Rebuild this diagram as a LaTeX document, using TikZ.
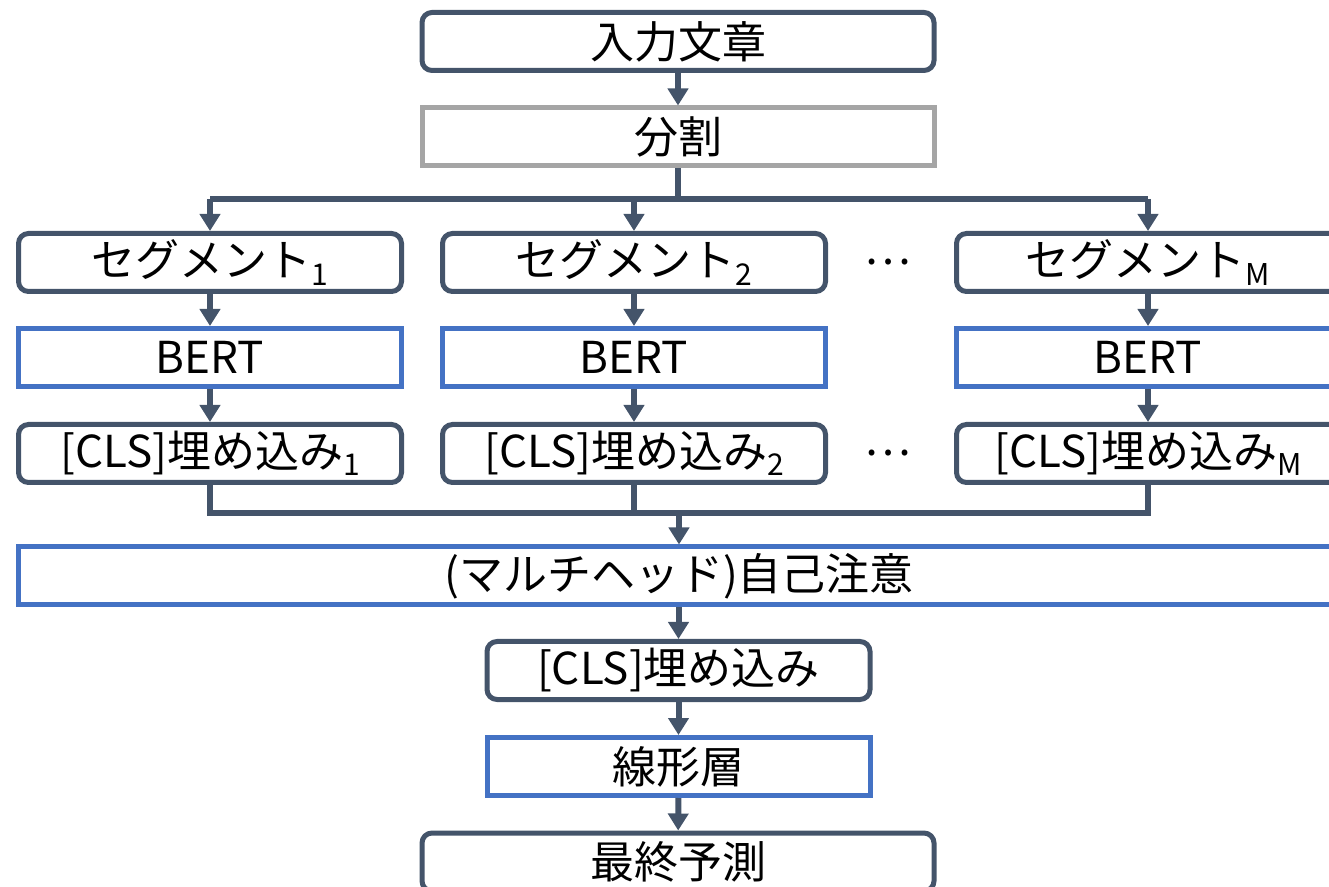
\documentclass[tikz,border=0pt]{standalone}
\usepackage{fontspec}
\setmainfont{Noto Sans CJK JP}
\usetikzlibrary{arrows.meta}
\definecolor{dk}{HTML}{44546A}
\definecolor{bl}{HTML}{4472C4}
\definecolor{gr}{HTML}{A5A5A5}
\newcommand{\mysub}[1]{{\fontsize{15pt}{15pt}\selectfont\raisebox{-0.5ex}{#1}}}
\tikzset{
  base/.style={minimum height=29pt, inner sep=0pt, font=\fontsize{22pt}{24pt}\selectfont, fill=white, line width=2.5pt},
  rbox/.style={base, draw=dk, rounded corners=5pt},
  bbox/.style={base, draw=bl},
  gbox/.style={base, draw=gr},
  conn/.style={draw=dk, line width=3pt},
  arr/.style={conn, -{Triangle[width=10pt,length=8.5pt]}},
}
\begin{document}
\begin{tikzpicture}[x=0.5pt,y=-0.5pt]
\useasboundingbox (0,0) rectangle (1329,887);
\clip (0,0) rectangle (1329,887);
% top
\node[rbox, minimum width=256pt] (in) at (678,41.5) {入力文章};
\node[gbox, minimum width=256pt] (split) at (678,137) {分割};
% segments
\node[rbox, minimum width=191.5pt] (s1) at (210,262.5) {セグメント\mysub{1}};
\node[rbox, minimum width=191.5pt] (s2) at (634,262.5) {セグメント\mysub{2}};
\node[rbox, minimum width=191.5pt] (sM) at (1148,262.5) {セグメント\mysub{M}};
\node[font=\fontsize{22pt}{24pt}\selectfont] (d1) at (888,262.5) {…};
% BERT
\node[bbox, minimum width=191.5pt] (b1) at (210,357.5) {BERT};
\node[bbox, minimum width=191.5pt] (b2) at (634,357.5) {BERT};
\node[bbox, minimum width=191.5pt] (bM) at (1148,357.5) {BERT};
% CLS
\node[rbox, minimum width=191.5pt] (c1) at (210,453.5) {[CLS]埋め込み\mysub{1}};
\node[rbox, minimum width=191.5pt] (c2) at (634,453.5) {[CLS]埋め込み\mysub{2}};
\node[rbox, minimum width=191.5pt] (cM) at (1148,453.5) {[CLS]埋め込み\mysub{M}};
\node[font=\fontsize{22pt}{24pt}\selectfont] (d2) at (888,453.5) {…};
% attention
\node[bbox, minimum width=661pt] (att) at (679,576) {(マルチヘッド)自己注意};
\node[rbox, minimum width=191.5pt] (cls) at (678.5,670.5) {[CLS]埋め込み};
\node[bbox, minimum width=191.5pt] (lin) at (678.5,766.5) {線形層};
\node[rbox, minimum width=256pt] (out) at (678,862) {最終予測};
% connectors
\draw[arr] (in.south) -- (split.north);
\coordinate (j1) at (678,199);
\draw[conn] (split.south) -- (j1);
\draw[conn] (s1.north |- j1) -- (sM.north |- j1);
\draw[arr] (s1.north |- j1) -- (s1.north);
\draw[arr] (s2.north |- j1) -- (s2.north);
\draw[arr] (sM.north |- j1) -- (sM.north);
\draw[arr] (s1) -- (b1);
\draw[arr] (s2) -- (b2);
\draw[arr] (sM) -- (bM);
\draw[arr] (b1) -- (c1);
\draw[arr] (b2) -- (c2);
\draw[arr] (bM) -- (cM);
\coordinate (j2) at (679,513);
\draw[conn] (c1.south) |- (cM.south |- j2) -- (cM.south);
\draw[conn] (c2.south) -- (c2.south |- j2);
\draw[arr] (j2) -- (att.north);
\draw[arr] (att.south -| cls.north) -- (cls.north);
\draw[arr] (cls) -- (lin);
\draw[arr] (lin) -- (out);
\end{tikzpicture}
\end{document}
